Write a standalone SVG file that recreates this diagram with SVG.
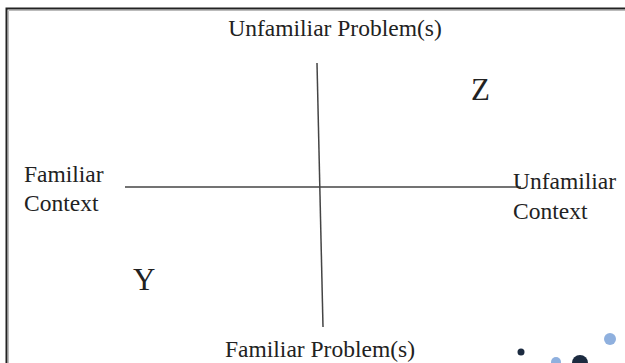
<svg xmlns="http://www.w3.org/2000/svg" width="625" height="363" viewBox="0 0 625 363">
<style>
.t{font-family:"Liberation Serif","Times New Roman",serif;fill:#222;font-size:23.5px}
.big{font-size:31px}
.ax{stroke:#444;stroke-width:1.5;fill:none}
</style>
<rect width="625" height="363" fill="#fff"/>
<g id="frame">
<path d="M6.5 363 V8.5 H625" fill="none" stroke="#222" stroke-width="2"/>
<path d="M8.5 363 V10.5 H625" fill="none" stroke="#bbb" stroke-width="1"/>
</g>
<g id="connectors">
<line class="ax" x1="317" y1="63" x2="323" y2="327"/>
<line class="ax" x1="125" y1="187" x2="521" y2="187"/>
</g>
<g id="top"><text class="t" x="335" y="36" text-anchor="middle">Unfamiliar Problem(s)</text></g>
<g id="bottom"><text class="t" x="320" y="357" text-anchor="middle">Familiar Problem(s)</text></g>
<g id="left"><text class="t" x="24" y="182">Familiar</text><text class="t" x="24" y="211">Context</text></g>
<g id="right"><text class="t" x="513" y="189">Unfamiliar</text><text class="t" x="513" y="219">Context</text></g>
<g id="z"><text class="t big" x="471" y="100">Z</text></g>
<g id="y"><text class="t big" x="133" y="290">Y</text></g>
<g id="dots">
<circle cx="521" cy="352" r="3.5" fill="#1c2b40"/>
<circle cx="556" cy="362" r="5" fill="#8fb0de"/>
<circle cx="580" cy="363" r="8" fill="#1c2b40"/>
<circle cx="610" cy="339" r="6" fill="#8fb0de"/>
</g>
</svg>
